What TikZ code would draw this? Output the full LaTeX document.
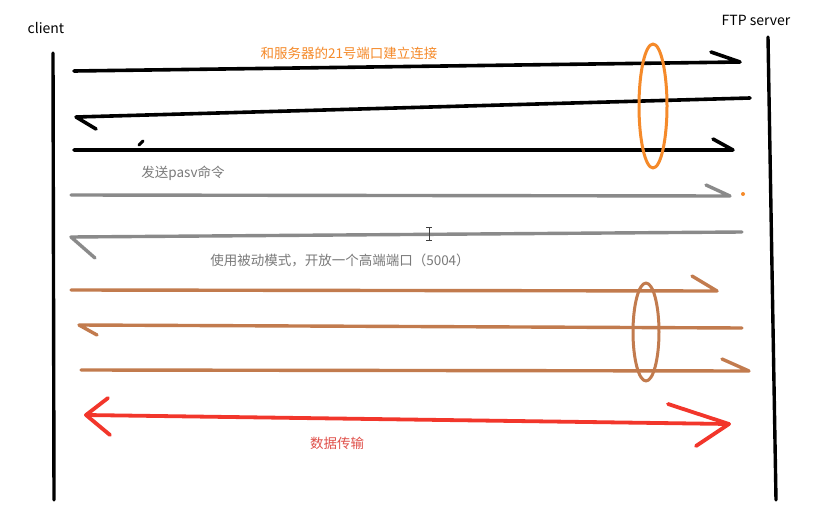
\documentclass[tikz,border=0pt]{standalone}
\usepackage{fontspec}
\setmainfont{Noto Sans CJK SC}
\definecolor{cgray}{HTML}{8A8A8A}
\definecolor{cbrown}{HTML}{C27B4E}
\definecolor{corange}{HTML}{F58A2A}
\definecolor{cred}{HTML}{F2362B}
\definecolor{tred}{HTML}{E0504A}
\definecolor{tgray}{HTML}{7A7A7A}
\begin{document}
\begin{tikzpicture}[x=1pt,y=-1pt,line cap=round,line join=round,
  lbl/.style={inner sep=0pt,font=\fontsize{13.5}{15}\selectfont},
  life/.style={line width=3.4pt,black},
  blk/.style={line width=3.6pt,black},
  gry/.style={line width=3.4pt,cgray},
  brn/.style={line width=3.4pt,cbrown},
  rd/.style={line width=3.8pt,cred},
  ring/.style={line width=3pt}]
\useasboundingbox (0,0) rectangle (828,506);
\fill[white] (0,0) rectangle (828,506);

% labels
\node[lbl,font=\fontsize{14}{16}\selectfont] (client) at (46,28) {client};
\node[lbl,font=\fontsize{14}{16}\selectfont] (server) at (756,20) {FTP server};
\node[lbl,text=corange] (t1) at (349,53) {和服务器的21号端口建立连接};
\node[lbl,text=tgray] (t2) at (183,173) {发送pasv命令};
\node[lbl,text=tgray] (t3) at (340,260) {使用被动模式，开放一个高端端口（5004）};
\node[lbl,text=tred] (t4) at (337,443) {数据传输};

% lifelines
\coordinate (c1) at (53,53); \coordinate (c2) at (54,500);
\coordinate (s1) at (768,37); \coordinate (s2) at (776,500);
\draw[life] (c1) -- (c2);
\draw[life] (s1) -- (s2);

% black arrows
\coordinate (a1s) at (74,71); \coordinate (a1e) at (740,62); \coordinate (a1b) at (711,52);
\draw[blk] (a1s) -- (a1e) -- (a1b);
\coordinate (a2s) at (750,98); \coordinate (a2e) at (76,117); \coordinate (a2b) at (96,129);
\draw[blk] (a2s) -- (a2e) -- (a2b);
\coordinate (a3s) at (74,150); \coordinate (a3e) at (733,150); \coordinate (a3b) at (713,139);
\draw[blk] (a3s) -- (a3e) -- (a3b);
\coordinate (d1) at (139,145); \coordinate (d2) at (143,141);
\draw[line width=3pt] (d1) -- (d2);

% orange ring
\draw[ring,corange] (653,106) ellipse [x radius=14, y radius=62];

% gray arrows
\coordinate (g1s) at (71,195); \coordinate (g1e) at (730,196); \coordinate (g1b) at (706,185);
\draw[gry] (g1s) -- (g1e) -- (g1b);
\fill[corange] (743,194) circle (2);
\coordinate (g2s) at (742,232); \coordinate (g2e) at (71,237); \coordinate (g2b) at (95,258);
\draw[gry] (g2s) -- (g2e) -- (g2b);
% text cursor
\draw[line width=0.9pt,black!75,line cap=butt] (429,227) -- (429,240)
  (426,227) -- (432,227) (426,240) -- (432,240);

% brown arrows
\coordinate (b1s) at (71,290); \coordinate (b1e) at (717,291); \coordinate (b1b) at (692,276);
\draw[brn] (b1s) -- (b1e) -- (b1b);
\coordinate (b2s) at (742,328); \coordinate (b2e) at (79,325); \coordinate (b2b) at (97,335);
\draw[brn] (b2s) -- (b2e) -- (b2b);
\coordinate (b3s) at (81,370); \coordinate (b3e) at (749,371); \coordinate (b3b) at (722,359);
\draw[brn] (b3s) -- (b3e) -- (b3b);
\draw[ring,cbrown] (646,332) ellipse [x radius=13, y radius=49];

% red double arrow
\coordinate (rl) at (86,415); \coordinate (rr) at (729,424);
\draw[rd] (rl) -- (rr);
\draw[rd] (108,398) -- (rl) -- (110,435);
\draw[rd] (668,404) -- (rr) -- (696,446);
\end{tikzpicture}
\end{document}
